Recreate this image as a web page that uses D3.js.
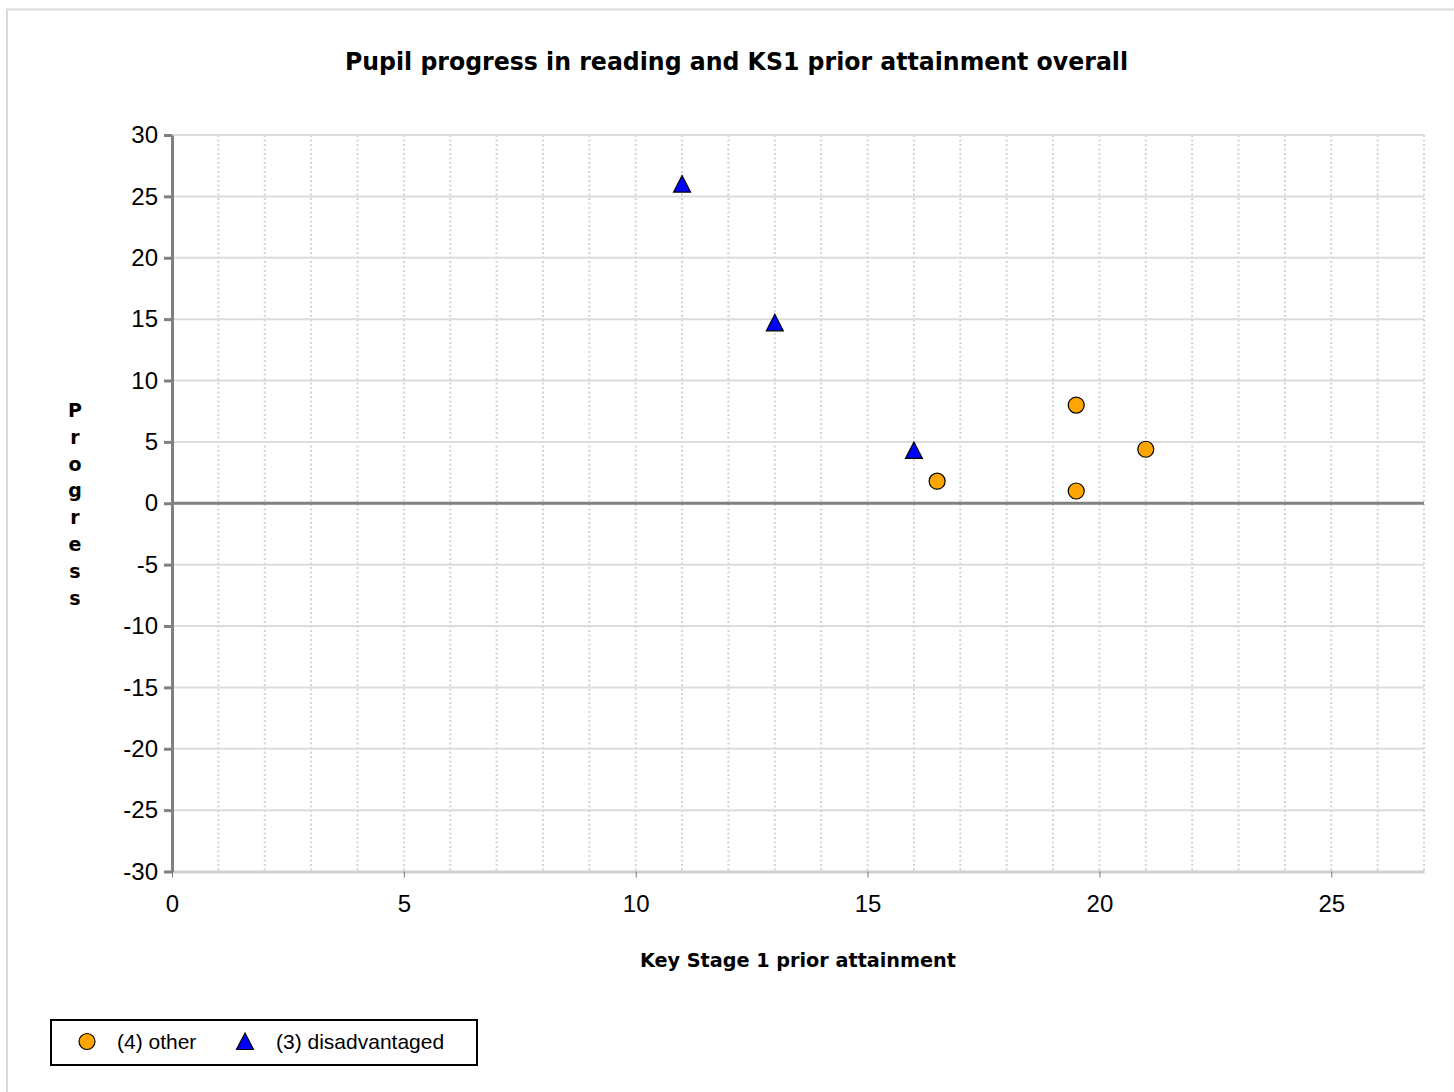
<!DOCTYPE html>
<html>
<head>
<meta charset="utf-8">
<script src="https://cdn.jsdelivr.net/npm/d3@7"></script>
<style>
  body { margin: 0; background: #fff; }
  svg { display: block; }
  text { font-family: "Liberation Sans", Arial, sans-serif; fill: #000; }
</style>
</head>
<body>
<svg id="chart"></svg>
<script>
const width = 1454,
    height = 1092;

// data
const otherX = [16.5, 19.5, 19.5, 21];
const otherY = [1.8, 8, 1, 4.4];
const disadvX = [11, 13, 16];
const disadvY = [26, 14.7, 4.3];
const xTicks = [0, 5, 10, 15, 20, 25];
const yTicks = [30, 25, 20, 15, 10, 5, 0, -5, -10, -15, -20, -25, -30];
const legendLabels = ["(4) other", "(3) disadvantaged"];

const margin = { left: 172, right: 1424, top: 135, bottom: 871.5 };

const svg = d3.select("svg#chart")
    .attr("width", width)
    .attr("height", height);

// outer frame
svg.append("rect")
    .attr("x", 7).attr("y", 9.5)
    .attr("width", width + 20).attr("height", height + 20)
    .attr("fill", "none")
    .attr("stroke", "#d9d9d9")
    .attr("stroke-width", 2);

const x = d3.scaleLinear().domain([0, 27]).range([margin.left, margin.right]);
const y = d3.scaleLinear().domain([-30, 30]).range([margin.bottom, margin.top]);

const grid = svg.append("g");
// dotted verticals every unit
grid.selectAll("line.v")
    .data(d3.range(1, 28))
    .enter().append("line")
    .attr("x1", d => x(d)).attr("x2", d => x(d))
    .attr("y1", margin.top).attr("y2", margin.bottom)
    .attr("stroke", "#d3d3d3")
    .attr("stroke-width", 2)
    .attr("stroke-dasharray", "2,2.5");
// solid horizontals
grid.selectAll("line.h")
    .data(yTicks.filter(d => d !== 0 && d !== -30))
    .enter().append("line")
    .attr("x1", margin.left).attr("x2", margin.right)
    .attr("y1", d => y(d)).attr("y2", d => y(d))
    .attr("stroke", "#dcdcdc")
    .attr("stroke-width", 2);

// x axis (bottom)
const xAxis = svg.append("g")
    .attr("transform", `translate(0,${y(-30)})`)
    .call(d3.axisBottom(x).tickValues(xTicks).tickFormat(d => String(d))
        .tickSize(6).tickPadding(17).tickSizeOuter(0));
xAxis.select(".domain").attr("stroke", "#d0d0d0").attr("stroke-width", 3);
xAxis.selectAll(".tick line").attr("stroke", "#777").attr("stroke-width", 1);
xAxis.selectAll(".tick text")
    .attr("font-size", 24)
    .attr("font-family", "Liberation Sans, Arial, sans-serif")
    .attr("fill", "#000");

// zero line
svg.append("line")
    .attr("x1", margin.left).attr("x2", margin.right)
    .attr("y1", y(0)).attr("y2", y(0))
    .attr("stroke", "#808080")
    .attr("stroke-width", 3);

// y axis
const yAxis = svg.append("g")
    .attr("transform", `translate(${x(0)},0)`)
    .call(d3.axisLeft(y).tickValues(yTicks).tickFormat(d => String(d))
        .tickSize(8).tickPadding(6).tickSizeOuter(0));
yAxis.select(".domain").attr("stroke", "#808080").attr("stroke-width", 3);
yAxis.selectAll(".tick line").attr("stroke", "#808080").attr("stroke-width", 3);
yAxis.selectAll(".tick text")
    .attr("font-size", 24)
    .attr("font-family", "Liberation Sans, Arial, sans-serif")
    .attr("fill", "#000");

const triPath = "M0,-8.5L8.5,8L-8.5,8Z";

// points
svg.append("g").selectAll("circle")
    .data(otherX.map((d, i) => [d, otherY[i]]))
    .enter().append("circle")
    .attr("cx", d => x(d[0]))
    .attr("cy", d => y(d[1]))
    .attr("r", 8)
    .attr("fill", "#FFA500")
    .attr("stroke", "#000")
    .attr("stroke-width", 1.2);

svg.append("g").selectAll("path")
    .data(disadvX.map((d, i) => [d, disadvY[i]]))
    .enter().append("path")
    .attr("d", triPath)
    .attr("transform", d => `translate(${x(d[0])},${y(d[1])})`)
    .attr("fill", "#0000FF")
    .attr("stroke", "#000")
    .attr("stroke-width", 1.2);

// title
svg.append("text")
    .attr("x", 736.5).attr("y", 70)
    .attr("text-anchor", "middle")
    .style("font-family", "'DejaVu Sans Condensed', 'DejaVu Sans', sans-serif")
    .style("font-weight", "bold")
    .style("font-size", "25px")
    .attr("textLength", 783)
    .attr("lengthAdjust", "spacingAndGlyphs")
    .text("Pupil progress in reading and KS1 prior attainment overall");

// x label
svg.append("text")
    .attr("x", 798).attr("y", 967)
    .attr("text-anchor", "middle")
    .style("font-family", "'DejaVu Sans Condensed', 'DejaVu Sans', sans-serif")
    .style("font-weight", "bold")
    .style("font-size", "20px")
    .attr("textLength", 316)
    .attr("lengthAdjust", "spacingAndGlyphs")
    .text("Key Stage 1 prior attainment");

// y label, stacked letters
svg.append("text")
    .attr("x", 75)
    .attr("text-anchor", "middle")
    .style("font-family", "'DejaVu Sans', sans-serif")
    .style("font-weight", "bold")
    .style("font-size", "19px")
    .selectAll("tspan")
    .data("Progress".split(""))
    .enter().append("tspan")
    .attr("x", 75)
    .attr("y", (d, i) => 417 + i * 26.8)
    .text(d => d);

// legend
const legend = svg.append("g");
legend.append("rect")
    .attr("x", 51).attr("y", 1020)
    .attr("width", 426).attr("height", 45)
    .attr("fill", "#fff")
    .attr("stroke", "#000")
    .attr("stroke-width", 2);
legend.append("circle")
    .attr("cx", 87).attr("cy", 1041.5).attr("r", 8)
    .attr("fill", "#FFA500").attr("stroke", "#000").attr("stroke-width", 1.2);
legend.append("path")
    .attr("d", triPath)
    .attr("transform", "translate(245,1041.5)")
    .attr("fill", "#0000FF").attr("stroke", "#000").attr("stroke-width", 1.2);
legend.selectAll("text.lg")
    .data(legendLabels)
    .enter().append("text")
    .attr("x", (d, i) => i === 0 ? 117 : 276)
    .attr("y", 1049)
    .style("font-size", "21px")
    .text(d => d);
</script>
</body>
</html>
